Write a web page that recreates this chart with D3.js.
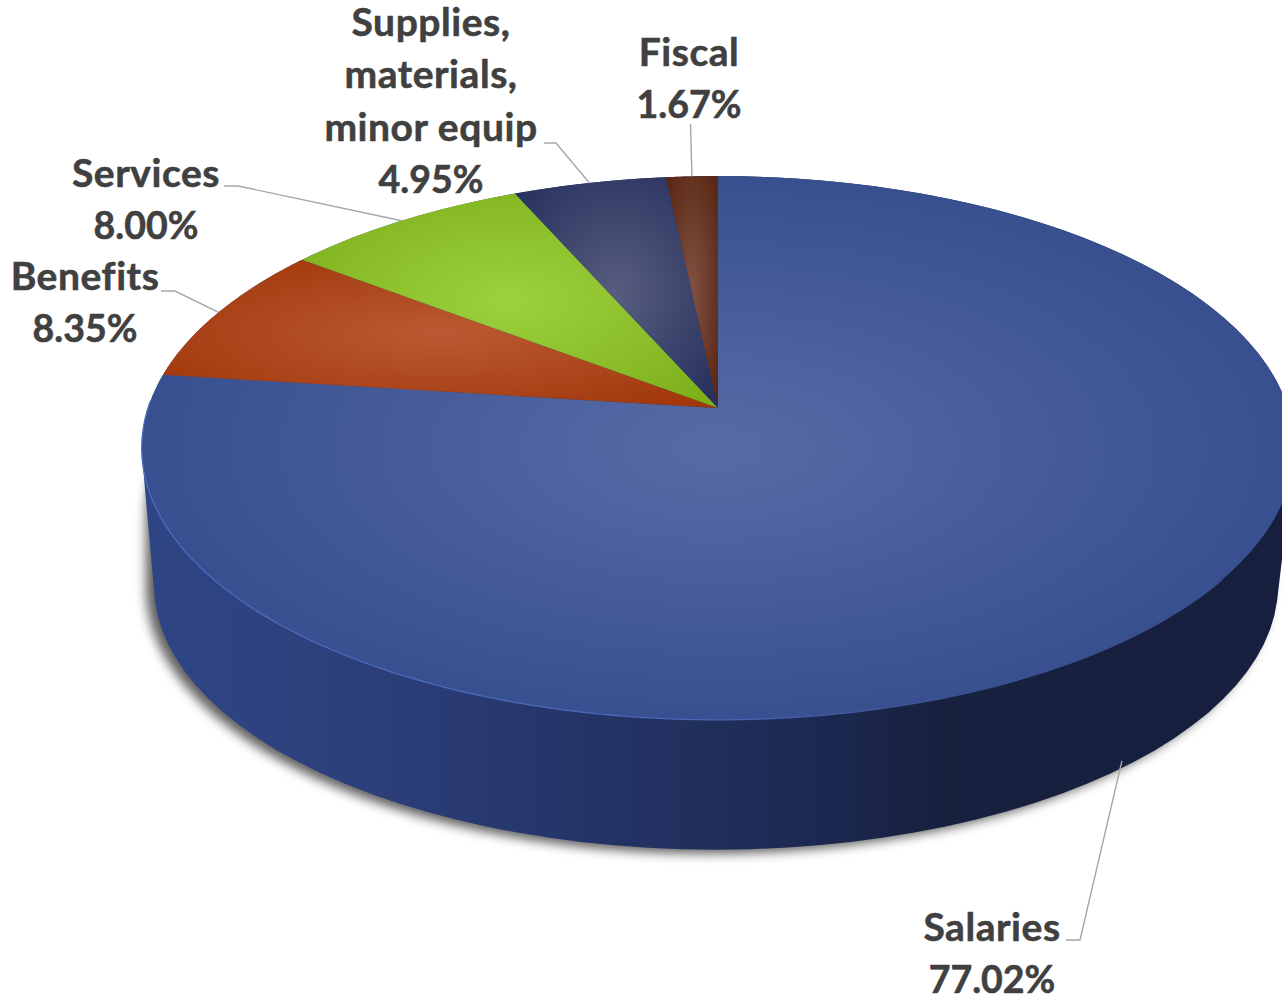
<!DOCTYPE html>
<html>
<head>
<meta charset="utf-8">
<script src="https://cdn.jsdelivr.net/npm/d3@7/dist/d3.min.js"></script>
<style>
  html, body { margin: 0; padding: 0; background: #fff; overflow: hidden; }
  svg { display: block; }
  text { font-family: Lato, "Open Sans", sans-serif; font-weight: 700; fill: #404040; stroke: #404040; stroke-width: 0.55; }
</style>
</head>
<body>
<script>
// Budget shares, clockwise from twelve o'clock
const categories = ["Salaries", "Benefits", "Services", "Supplies, materials, minor equip", "Fiscal"];
const shares = [77.02, 8.35, 8.00, 4.95, 1.67];
const labelLines = [["Salaries"], ["Benefits"], ["Services"], ["Supplies,", "materials,", "minor equip"], ["Fiscal"]];

// Radial shading of each slice: centre tone, rim tone
const sliceLight = ["#576ba6", "#bb5a33", "#9cd13f", "#585d7f", "#815142"];
const sliceDark = ["#38508f", "#a1370a", "#7eb01a", "#27325e", "#5a2814"];

// Where each label block sits: centre x, first baseline, leader elbow start and end x/y
const labelLayout = [
  { x: 992, y: 941, elbow: [[1066, 940], [1080, 940]], onWall: true },
  { x: 85, y: 290, elbow: [[161, 291], [175, 291]] },
  { x: 146, y: 187, elbow: [[224, 186], [238, 186]] },
  { x: 431, y: 36, elbow: [[544, 143], [556, 143]] },
  { x: 689, y: 66, elbow: [[690.5, 124]] }
];

const width = 1282, height = 997;
const lineGap = 52.3;

// Perspective view of the unit disc. The apex lands off the ellipse centre,
// as it does when a round plate is seen from the front.
const tilt = 0.147;
function projector(cx, cy, a, b) {
  return (angle, r = 1) => {
    const u = r * Math.sin(angle), v = r * Math.cos(angle);
    const w = 1 + tilt * v;
    return [cx + a * u / w, cy - b * v / w];
  };
}
const topDisc = projector(718, 408, 570, 266);
const baseDisc = projector(716, 546, 556, 259);

const svg = d3.select("body").append("svg").attr("width", width).attr("height", height);
const defs = svg.append("defs");

const pie = d3.pie().sort(null).value(d => d);
const arcs = pie(shares);

const line = d3.line();
const ring = (disc, a0, a1) => d3.range(0, 121).map(i => disc(a0 + (a1 - a0) * i / 120));

// Shadow and outer wall share the hull of both discs
const fullTop = ring(topDisc, 0, 2 * Math.PI);
const fullBase = ring(baseDisc, 0, 2 * Math.PI);
const hull = d3.polygonHull(fullTop.concat(fullBase));

const blur = defs.append("filter").attr("id", "soft")
  .attr("x", "-10%").attr("y", "-10%").attr("width", "120%").attr("height", "120%");
blur.append("feGaussianBlur").attr("stdDeviation", 5.5);

const wallFill = defs.append("linearGradient").attr("id", "wall")
  .attr("gradientUnits", "userSpaceOnUse")
  .attr("x1", 142).attr("x2", 1282).attr("y1", 0).attr("y2", 0);
[[0, "#2f4585"], [0.2, "#2c3f7a"], [0.45, "#223161"], [0.6, "#1c2850"], [0.7, "#17213e"], [1, "#161f3e"]]
  .forEach(([o, c]) => wallFill.append("stop").attr("offset", o).attr("stop-color", c));

// Soft shadow, nudged down and to the left of the wall
svg.append("path")
  .attr("d", line(d3.polygonHull(fullBase.concat(ring(projector(716, 470, 556, 259), 0, 2 * Math.PI)))) + "Z")
  .attr("transform", "translate(-8,4)")
  .attr("fill", "#000").attr("fill-opacity", 0.62)
  .attr("filter", "url(#soft)");

svg.append("path").attr("d", line(hull) + "Z").attr("fill", "url(#wall)");

// One radial gradient per slice, sized to that slice's bounding box
arcs.forEach((d, i) => {
  const g = defs.append("radialGradient").attr("id", `slice${i}`)
    .attr("cx", 0.5).attr("cy", 0.5).attr("r", i === 0 ? 0.5 : 0.64);
  g.append("stop").attr("offset", 0).attr("stop-color", sliceLight[i]);
  g.append("stop").attr("offset", 1).attr("stop-color", sliceDark[i]);
});

svg.append("g").selectAll("path").data(arcs).join("path")
  .attr("d", d => {
    const pts = ring(topDisc, d.startAngle, d.endAngle);
    return line([topDisc(0, 0), ...pts]) + "Z";
  })
  .attr("fill", (d, i) => `url(#slice${i})`);

// Thin lit edge where the top meets the wall
const rim = defs.append("linearGradient").attr("id", "rim")
  .attr("gradientUnits", "userSpaceOnUse")
  .attr("x1", 142).attr("x2", 1282).attr("y1", 0).attr("y2", 0);
[[0, "#4a6cc0"], [0.5, "#4a67b5"], [0.72, "#38508f"], [1, "#38508f"]]
  .forEach(([o, c]) => rim.append("stop").attr("offset", o).attr("stop-color", c));
svg.append("path")
  .attr("d", line(ring(topDisc, 2.2, arcs[0].endAngle - 0.1)))
  .attr("fill", "none")
  .attr("stroke", "url(#rim)")
  .attr("stroke-width", 1.3);

// Leader lines run from the label to the slice's mid-angle on its edge
arcs.forEach((d, i) => {
  const mid = (d.startAngle + d.endAngle) / 2;
  const layout = labelLayout[i];
  const end = layout.onWall ? baseDisc(mid, 0.985) : topDisc(mid);
  svg.append("path")
    .attr("d", line([...layout.elbow, end]))
    .attr("fill", "none")
    .attr("stroke", "#a6a6a6")
    .attr("stroke-width", 1.4);
});

// Two-part labels: category name, then the share
const labels = svg.append("g").attr("text-anchor", "middle");
arcs.forEach((d, i) => {
  const layout = labelLayout[i];
  const names = labelLines[i];
  const rows = [...names, d3.format(".2f")(shares[i]) + "%"];
  rows.forEach((row, k) => {
    const isName = k < names.length;
    labels.append("text")
      .attr("x", layout.x)
      .attr("y", layout.y + k * lineGap)
      .attr("font-size", isName ? 39 : 37.5)
      .attr("letter-spacing", isName ? 0.55 : 0)
      .text(row);
  });
});
</script>
</body>
</html>
